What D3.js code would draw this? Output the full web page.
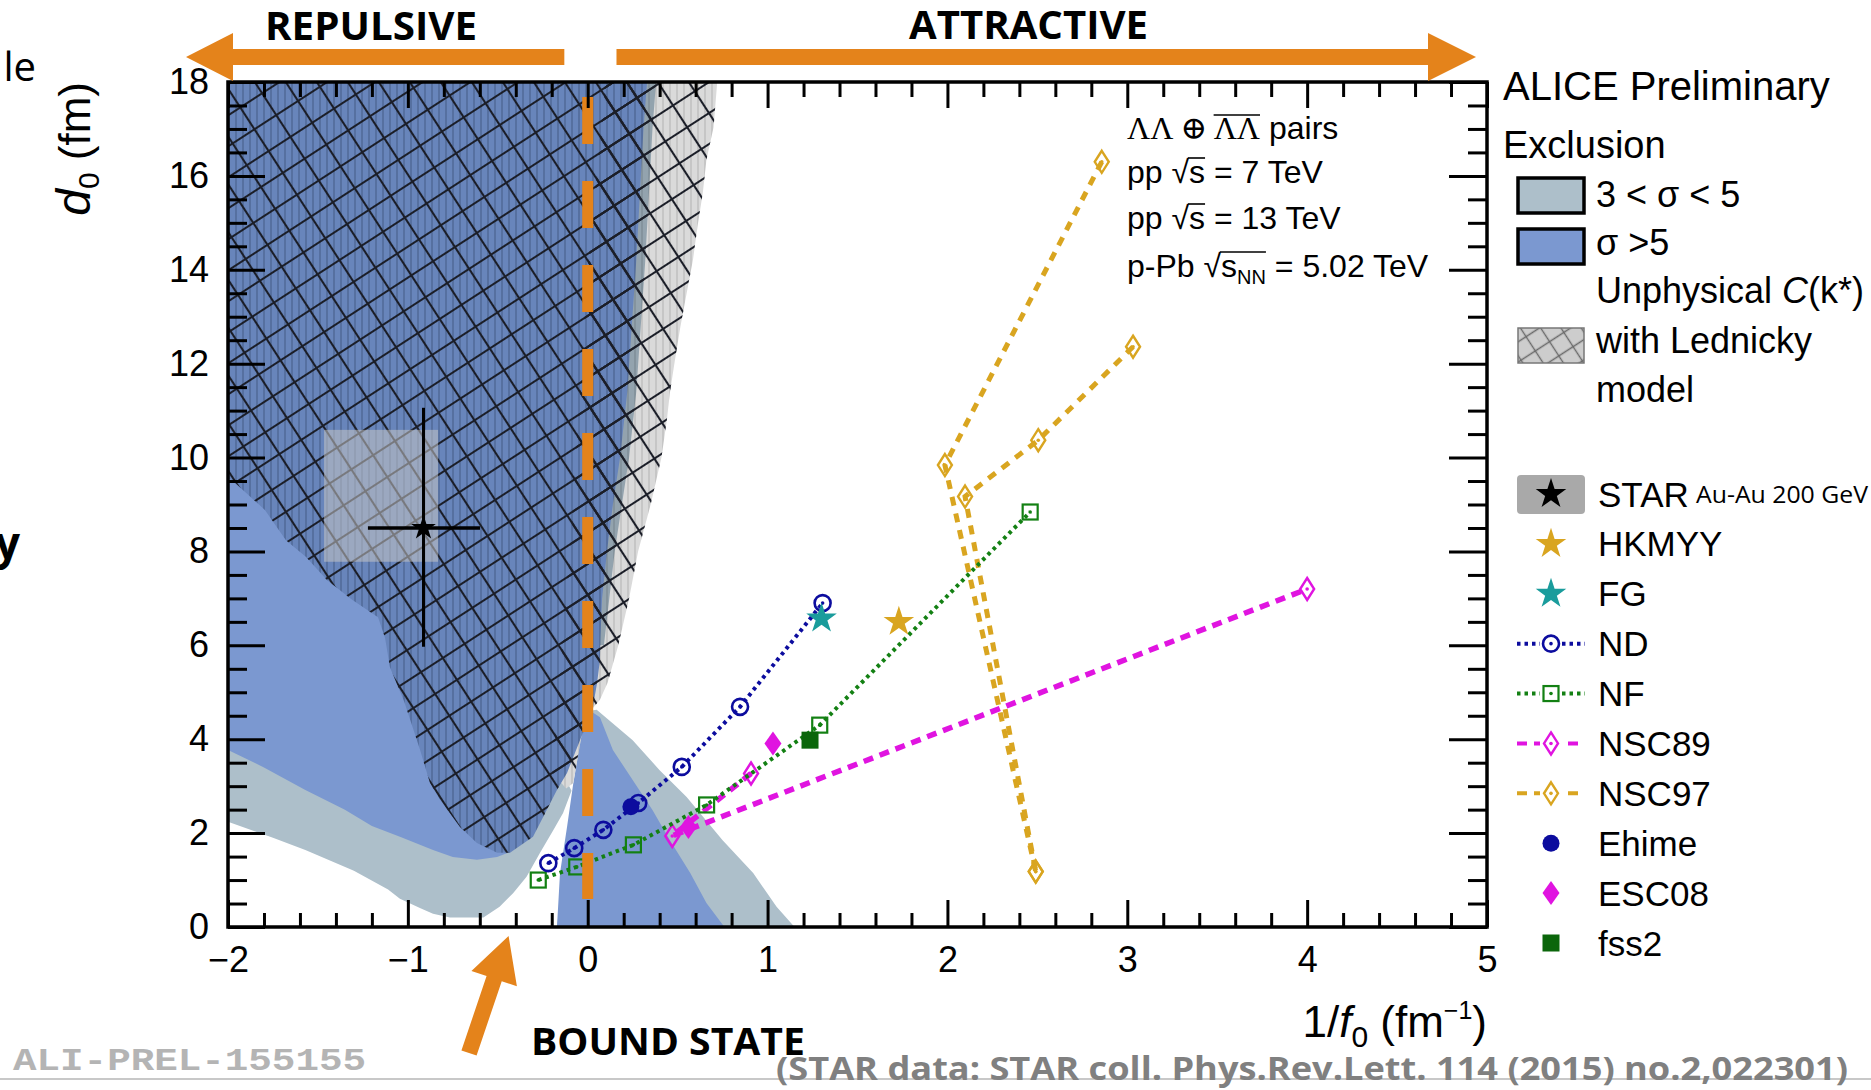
<!DOCTYPE html>
<html>
<head>
<meta charset="utf-8">
<script src="https://cdn.jsdelivr.net/npm/d3@7"></script>
<style>
  html, body { margin: 0; padding: 0; background: #ffffff; }
  svg { display: block; }
</style>
</head>
<body>
<svg id="chart" width="1871" height="1090"></svg>
<script>
// ---------- axis ticks ----------
const xMajorTicks = [-2, -1, 0, 1, 2, 3, 4, 5];
const yMajorTicks = [0, 2, 4, 6, 8, 10, 12, 14, 16, 18];

// ---------- model predictions: 1/f0 (fm^-1) vs d0 (fm) ----------
const ndX = [-0.219, -0.075, 0.087, 0.281, 0.523, 0.847, 1.306];
const ndY = [1.36, 1.68, 2.07, 2.64, 3.41, 4.69, 6.90];
const nfX = [-0.275, -0.061, 0.254, 0.661, 1.29, 2.46];
const nfY = [1.00, 1.28, 1.75, 2.60, 4.30, 8.84];
const nsc89X = [0.908, 0.47, 4.0];
const nsc89Y = [3.27, 1.94, 7.2];
const nsc97aX = [2.858, 1.986, 2.491];
const nsc97aY = [16.30, 9.84, 1.18];
const nsc97bX = [3.032, 2.505, 2.098, 2.491];
const nsc97bY = [12.36, 10.37, 9.17, 1.18];
const ehimeX = [0.24];
const ehimeY = [2.56];
const esc08X = [0.56, 1.03];
const esc08Y = [2.13, 3.91];
const fss2X = [1.236];
const fss2Y = [3.98];
const hkmyyX = [1.73];
const hkmyyY = [6.50];
const fgX = [1.30];
const fgY = [6.57];

// STAR Au-Au measurement with statistical bars and systematic box
const starX = -0.913, starY = 8.5;
const starErrX = [-1.222, -0.599];
const starErrY = [5.97, 11.06];
const starSysX = [-1.466, -0.832];
const starSysY = [7.78, 10.59];

// ---------- exclusion regions (1/f0, d0) ----------
const band3to5Left = [[-2, 12], [-2, 2.24], [-1.75, 1.9], [-1.57, 1.64], [-1.3, 1.2], [-1.11, 0.8], [-1.044, 0.6],
  [-0.93, 0.40], [-0.86, 0.28], [-0.766, 0.2], [-0.58, 0.2], [-0.49, 0.43], [-0.415, 0.72], [-0.34, 1.07],
  [-0.265, 1.58], [-0.19, 2.07], [-0.137, 2.43], [-0.09, 2.9], [-0.3, 4.5], [-0.3, 12]];
const band5Left = [[-2, 12], [-2, 3.77], [-1.8, 3.4], [-1.57, 2.92], [-1.35, 2.5], [-1.2, 2.15], [-1.044, 1.92],
  [-0.86, 1.64], [-0.75, 1.49], [-0.616, 1.43], [-0.504, 1.49], [-0.43, 1.6], [-0.3, 4.5], [-0.3, 12]];
const band3to5Tri = [[-0.171, 0], [-0.04, 4.2], [0.0, 4.6], [0.05, 4.63], [0.25, 3.98], [0.40, 3.34], [0.55, 2.77],
  [0.75, 1.85], [0.92, 1.15], [1.05, 0.43], [1.15, 0]];
const band5Tri = [[-0.171, 0], [-0.154, 1.15], [-0.115, 2.13], [-0.08, 3.07], [-0.032, 4.13], [0.024, 4.58],
  [0.068, 4.47], [0.14, 3.77], [0.25, 3.13], [0.36, 2.49], [0.457, 1.85], [0.57, 1.15], [0.66, 0.51], [0.76, 0]];
const unphysOnly = [[0.1, 18], [0.72, 18], [0.70, 17.04], [0.66, 16.34], [0.64, 15.64], [0.61, 14.91], [0.585, 14.21],
  [0.55, 13.5], [0.515, 12.78], [0.485, 12.08], [0.457, 11.38], [0.44, 10.8], [0.41, 10], [0.35, 9], [0.28, 8],
  [0.23, 7], [0.17, 6], [0.11, 5.2], [0.068, 4.84], [0.02, 4.62], [-0.032, 4.13], [-0.08, 3.07], [-0.12, 2.95],
  [-0.2, 3.3], [-0.1, 8], [0.0, 14]];
const unphys3to5 = [[0.1, 18], [0.38, 18], [0.36, 17], [0.34, 15.6], [0.32, 14.2], [0.295, 12.8], [0.27, 11.4],
  [0.23, 10], [0.19, 9], [0.15, 8], [0.12, 7], [0.09, 6], [0.0, 6], [0.0, 14]];
const unphys5 = [[-2, 18], [0.33, 18], [0.31, 17], [0.29, 15.6], [0.27, 14.2], [0.245, 12.8], [0.22, 11.4],
  [0.18, 10], [0.14, 9], [0.107, 8], [0.08, 7], [0.07, 6.1], [0.068, 5.69], [0.052, 5.2], [0.029, 4.69],
  [-0.004, 4.35], [-0.043, 3.98], [-0.115, 3.28], [-0.171, 2.92], [-0.304, 1.92], [-0.432, 1.58], [-0.504, 1.58],
  [-0.616, 1.79], [-0.71, 2.13], [-0.821, 2.71], [-0.877, 3.07], [-0.932, 3.77], [-1.02, 4.8], [-1.10, 5.54],
  [-1.127, 6.16], [-1.166, 6.6], [-1.31, 6.97], [-1.45, 7.39], [-1.566, 7.88], [-1.678, 8.24], [-1.794, 8.88],
  [-1.978, 9.52], [-2, 9.55]];

// ---------- legend entries ----------
const legendModels = ["STAR", "HKMYY", "FG", "ND", "NF", "NSC89", "NSC97", "Ehime", "ESC08", "fss2"];

// ---------- colours ----------
const C = {
  orange: "#e4831b", blue3to5: "#adbfca", blue5: "#7b98d0",
  nd: "#0c0c9e", nf: "#138013", nsc89: "#e014e0", nsc97: "#d9a520", teal: "#1a9c9c", fss2: "#0b660b"
};
const fontRoot = "'Liberation Sans', Arial, Helvetica, sans-serif";
const fontSlide = "'Open Sans', 'Noto Sans', sans-serif";

// ---------- frame ----------
const plot = { left: 228, right: 1487, top: 82, bottom: 927 };
const x = d3.scaleLinear().domain([-2, 5]).range([plot.left, plot.right]);
const y = d3.scaleLinear().domain([0, 18]).range([plot.bottom, plot.top]);

const svg = d3.select("#chart");
const defs = svg.append("defs");
defs.append("clipPath").attr("id", "plotClip").append("rect")
  .attr("x", plot.left).attr("y", plot.top)
  .attr("width", plot.right - plot.left).attr("height", plot.bottom - plot.top);

// cross-hatch for the unphysical correlation region
const hatch = defs.append("pattern").attr("id", "hatch").attr("patternUnits", "userSpaceOnUse")
  .attr("width", 26).attr("height", 26).attr("patternTransform", "rotate(-33)");
hatch.append("path").attr("d", "M0,13H26M13,0V26").attr("stroke", "#1b1e28").attr("stroke-width", 2.1).attr("fill", "none");

const hatchSmall = defs.append("pattern").attr("id", "hatchSmall").attr("patternUnits", "userSpaceOnUse")
  .attr("width", 17).attr("height", 17).attr("patternTransform", "rotate(-33)");
hatchSmall.append("rect").attr("width", 17).attr("height", 17).attr("fill", "#cdcdcd");
hatchSmall.append("path").attr("d", "M0,8.5H17M8.5,0V17").attr("stroke", "#6a6a6a").attr("stroke-width", 1.4).attr("fill", "none");

// fine vertical stripes of the scanned regions
function stripePattern(id, base, stripe) {
  const p = defs.append("pattern").attr("id", id).attr("patternUnits", "userSpaceOnUse")
    .attr("width", 7).attr("height", 10);
  p.append("rect").attr("width", 7).attr("height", 10).attr("fill", base);
  p.append("rect").attr("x", 4).attr("width", 2).attr("height", 10).attr("fill", stripe);
}
stripePattern("stripeDark", "#6885bb", "#5670a0");
stripePattern("stripeGray", "#dadada", "#c6c6c6");
stripePattern("stripeMid", "#93a3ae", "#84939d");

const area = d3.line().x(d => x(d[0])).y(d => y(d[1]));
const regions = svg.append("g").attr("clip-path", "url(#plotClip)");
function region(pts, fill) { regions.append("path").attr("d", area(pts) + "Z").attr("fill", fill); }

region(band3to5Left, C.blue3to5);
region(band5Left, C.blue5);
region(band3to5Tri, C.blue3to5);
region(band5Tri, C.blue5);
region(unphysOnly, "url(#stripeGray)");
region(unphys3to5, "url(#stripeMid)");
region(unphys5, "url(#stripeDark)");
region(unphysOnly, "url(#hatch)");
region(unphys3to5, "url(#hatch)");
region(unphys5, "url(#hatch)");

// ---------- STAR point ----------
const marks = svg.append("g").attr("clip-path", "url(#plotClip)");
marks.append("rect")
  .attr("x", x(starSysX[0])).attr("y", y(starSysY[1]))
  .attr("width", x(starSysX[1]) - x(starSysX[0])).attr("height", y(starSysY[0]) - y(starSysY[1]))
  .attr("fill", "#c4c4c4").attr("fill-opacity", 0.55);
marks.append("line").attr("x1", x(starErrX[0])).attr("x2", x(starErrX[1]))
  .attr("y1", y(starY)).attr("y2", y(starY)).attr("stroke", "#000").attr("stroke-width", 3.5);
marks.append("line").attr("x1", x(starX)).attr("x2", x(starX))
  .attr("y1", y(starErrY[0])).attr("y2", y(starErrY[1])).attr("stroke", "#000").attr("stroke-width", 3);

// ---------- orange zero line ----------
svg.append("line").attr("x1", x(0)).attr("x2", x(0)).attr("y1", plot.top + 15).attr("y2", plot.bottom - 28)
  .attr("stroke", C.orange).attr("stroke-width", 11).attr("stroke-dasharray", "47,37");

// ---------- marker drawing ----------
function marker(g, type, cx, cy, color) {
  const s = g.append("g").attr("transform", `translate(${cx},${cy})`);
  const dot = () => s.append("circle").attr("r", 1.8).attr("fill", color);
  switch (type) {
    case "openCircle":
      s.append("circle").attr("r", 8).attr("fill", "none").attr("stroke", color).attr("stroke-width", 2.6); dot(); break;
    case "openSquare":
      s.append("rect").attr("x", -7.5).attr("y", -7.5).attr("width", 15).attr("height", 15)
        .attr("fill", "none").attr("stroke", color).attr("stroke-width", 2.2); dot(); break;
    case "openDiamond":
      s.append("path").attr("d", "M0,-11L7,0L0,11L-7,0Z").attr("fill", "none").attr("stroke", color).attr("stroke-width", 2.4); dot(); break;
    case "filledCircle":
      s.append("circle").attr("r", 8.5).attr("fill", color); break;
    case "filledDiamond":
      s.append("path").attr("d", "M0,-12L8.5,0L0,12L-8.5,0Z").attr("fill", color); break;
    case "filledSquare":
      s.append("rect").attr("x", -8.5).attr("y", -8.5).attr("width", 17).attr("height", 17).attr("fill", color); break;
    case "star":
      s.append("path").attr("d", d3.symbol(d3.symbolStar, 290)()).attr("fill", color); break;
    case "starSmall":
      s.append("path").attr("d", d3.symbol(d3.symbolStar, 190)()).attr("fill", color); break;
  }
}

function series(xs, ys, color, dash, width, type) {
  const pts = xs.map((v, i) => [v, ys[i]]);
  marks.append("path").attr("d", area(pts)).attr("fill", "none").attr("stroke", color)
    .attr("stroke-width", width).attr("stroke-dasharray", dash);
  pts.forEach(p => marker(marks, type, x(p[0]), y(p[1]), color));
}
series(nsc97aX, nsc97aY, C.nsc97, "9,8", 5, "openDiamond");
series(nsc97bX, nsc97bY, C.nsc97, "9,8", 5, "openDiamond");
series(nsc89X, nsc89Y, C.nsc89, "10,7", 5.5, "openDiamond");
series(nfX, nfY, C.nf, "3.5,4", 4, "openSquare");
series(ndX, ndY, C.nd, "3.5,4", 4, "openCircle");
ehimeX.forEach((v, i) => marker(marks, "filledCircle", x(v), y(ehimeY[i]), C.nd));
esc08X.forEach((v, i) => marker(marks, "filledDiamond", x(v), y(esc08Y[i]), C.nsc89));
fss2X.forEach((v, i) => marker(marks, "filledSquare", x(v), y(fss2Y[i]), C.fss2));
hkmyyX.forEach((v, i) => marker(marks, "star", x(v), y(hkmyyY[i]), C.nsc97));
fgX.forEach((v, i) => marker(marks, "star", x(v), y(fgY[i]), C.teal));
marker(marks, "starSmall", x(starX), y(starY), "#000");

// ---------- axes (ticks on all four sides, pointing inward) ----------
const xMinor = x.ticks(35).filter(v => !xMajorTicks.some(m => Math.abs(m - v) < 1e-6));
const yMinor = y.ticks(36).filter(v => !yMajorTicks.some(m => Math.abs(m - v) < 1e-6));
const fmt = d => (d < 0 ? "\u2212" + Math.abs(d) : String(d));
function styleAxis(g) {
  g.select(".domain").remove();
  g.selectAll(".tick line").attr("stroke", "#000").attr("stroke-width", 3);
  g.selectAll(".tick text").attr("font-family", fontRoot).attr("font-size", 36).attr("fill", "#000");
}
const axes = svg.append("g");
axes.append("g").attr("transform", `translate(0,${plot.bottom})`)
  .call(d3.axisBottom(x).tickValues(xMajorTicks).tickSize(-27).tickPadding(19).tickFormat(fmt)).call(styleAxis);
axes.append("g").attr("transform", `translate(0,${plot.bottom})`)
  .call(d3.axisBottom(x).tickValues(xMinor).tickSize(-14).tickFormat("")).call(styleAxis);
axes.append("g").attr("transform", `translate(0,${plot.top})`)
  .call(d3.axisTop(x).tickValues(xMajorTicks).tickSize(-26).tickFormat("")).call(styleAxis);
axes.append("g").attr("transform", `translate(0,${plot.top})`)
  .call(d3.axisTop(x).tickValues(xMinor).tickSize(-15).tickFormat("")).call(styleAxis);
axes.append("g").attr("transform", `translate(${plot.left},0)`)
  .call(d3.axisLeft(y).tickValues(yMajorTicks).tickSize(-37).tickPadding(19).tickFormat(fmt)).call(styleAxis);
axes.append("g").attr("transform", `translate(${plot.left},0)`)
  .call(d3.axisLeft(y).tickValues(yMinor).tickSize(-19).tickFormat("")).call(styleAxis);
axes.append("g").attr("transform", `translate(${plot.right},0)`)
  .call(d3.axisRight(y).tickValues(yMajorTicks).tickSize(-38).tickFormat("")).call(styleAxis);
axes.append("g").attr("transform", `translate(${plot.right},0)`)
  .call(d3.axisRight(y).tickValues(yMinor).tickSize(-19).tickFormat("")).call(styleAxis);
axes.append("rect").attr("x", plot.left).attr("y", plot.top)
  .attr("width", plot.right - plot.left).attr("height", plot.bottom - plot.top)
  .attr("fill", "none").attr("stroke", "#000").attr("stroke-width", 3.5);

// ---------- rich text helper ----------
function rich(parent, px, py, parts, opts = {}) {
  const t = parent.append("text").attr("x", px).attr("y", py)
    .attr("font-family", opts.family || fontRoot).attr("font-size", opts.size || 36)
    .attr("fill", opts.fill || "#000");
  if (opts.anchor) t.attr("text-anchor", opts.anchor);
  if (opts.transform) t.attr("transform", opts.transform);
  const spans = parts.map(p => {
    const s = t.append("tspan").text(p.t);
    if (p.italic) s.attr("font-style", "italic");
    if (p.size) s.attr("font-size", p.size);
    if (p.dy) s.attr("dy", p.dy);
    if (p.family) s.attr("font-family", p.family);
    return s;
  });
  return { t, spans };
}
// overline above a run of tspans (for radicals and antiparticles)
function overline(parent, spans, yTop, x0pad = 0) {
  const b0 = spans[0].node().getBBox();
  const b1 = spans[spans.length - 1].node().getBBox();
  parent.append("line").attr("x1", b0.x + x0pad).attr("x2", b1.x + b1.width)
    .attr("y1", yTop).attr("y2", yTop).attr("stroke", "#000").attr("stroke-width", 1.6);
}

// ---------- axis titles ----------
rich(svg, 90, plot.top, [
  { t: "d", italic: true, size: 48 }, { t: "0", size: 30, dy: 9 }, { t: " (fm)", dy: -9 }
], { size: 44, anchor: "end", transform: `rotate(-90,90,${plot.top})` });
rich(svg, plot.right, 1037, [
  { t: "1/" }, { t: "f", italic: true }, { t: "0", size: 30, dy: 10 }, { t: " (fm", dy: -10 },
  { t: "\u22121", size: 25, dy: -18 }, { t: ")", dy: 18 }
], { size: 44, anchor: "end" });

// ---------- collision systems ----------
const info = svg.append("g");
const l1 = rich(info, 1127, 139, [
  { t: "\u039B\u039B \u2295 ", family: "'Liberation Serif', 'DejaVu Serif', serif" },
  { t: "\u039B\u039B", family: "'Liberation Serif', 'DejaVu Serif', serif" },
  { t: " pairs" }
], { size: 32 });
overline(info, [l1.spans[1]], 115);
const l2 = rich(info, 1127, 183, [{ t: "pp " }, { t: "\u221A" }, { t: "s" }, { t: " = 7 TeV" }], { size: 32 });
overline(info, [l2.spans[2]], 158, -1);
const l3 = rich(info, 1127, 229, [{ t: "pp " }, { t: "\u221A" }, { t: "s" }, { t: " = 13 TeV" }], { size: 32 });
overline(info, [l3.spans[2]], 204, -1);
const l4 = rich(info, 1127, 277, [{ t: "p-Pb " }, { t: "\u221A" }, { t: "s" }, { t: "NN", size: 20, dy: 7 }, { t: " = 5.02 TeV", dy: -7 }], { size: 32 });
overline(info, [l4.spans[2], l4.spans[3]], 252, -1);

// ---------- legend: exclusion ----------
const leg = svg.append("g");
rich(leg, 1503, 100, [{ t: "ALICE Preliminary" }], { size: 40 });
rich(leg, 1503, 158, [{ t: "Exclusion" }], { size: 38 });
leg.append("rect").attr("x", 1518).attr("y", 178).attr("width", 66).attr("height", 35)
  .attr("fill", C.blue3to5).attr("stroke", "#000").attr("stroke-width", 3.5);
rich(leg, 1596, 207, [{ t: "3 < \u03C3 < 5" }], { size: 36 });
leg.append("rect").attr("x", 1518).attr("y", 229).attr("width", 66).attr("height", 35)
  .attr("fill", C.blue5).attr("stroke", "#000").attr("stroke-width", 3.5);
rich(leg, 1596, 255, [{ t: "\u03C3 >5" }], { size: 36 });
rich(leg, 1596, 303, [{ t: "Unphysical " }, { t: "C", italic: true }, { t: "(k*)" }], { size: 36 });
leg.append("rect").attr("x", 1518).attr("y", 328).attr("width", 66).attr("height", 35)
  .attr("fill", "url(#hatchSmall)").attr("stroke", "#777").attr("stroke-width", 1.5);
rich(leg, 1596, 353, [{ t: "with Lednicky" }], { size: 36 });
rich(leg, 1596, 402, [{ t: "model" }], { size: 36 });

// ---------- legend: models ----------
const rowY = d3.scalePoint().domain(legendModels).range([494, 943]);
const mx = 1551, lx0 = 1517, lx1 = 1585, tx = 1598;
const g2 = svg.append("g");
g2.append("rect").attr("x", lx0).attr("y", rowY("STAR") - 19).attr("width", lx1 - lx0).attr("height", 39)
  .attr("rx", 4).attr("fill", "#a9a9a9");
marker(g2, "star", mx, rowY("STAR"), "#000");
marker(g2, "star", mx, rowY("HKMYY"), C.nsc97);
marker(g2, "star", mx, rowY("FG"), C.teal);
const legLines = [["ND", C.nd, "3.5,4", 4, "openCircle"], ["NF", C.nf, "3.5,4", 4, "openSquare"],
  ["NSC89", C.nsc89, "10,7", 4, "openDiamond"], ["NSC97", C.nsc97, "10,7", 4, "openDiamond"]];
legLines.forEach(([name, col, dash, w, type]) => {
  g2.append("line").attr("x1", lx0).attr("x2", lx1).attr("y1", rowY(name)).attr("y2", rowY(name))
    .attr("stroke", col).attr("stroke-width", w).attr("stroke-dasharray", dash);
  g2.append("rect").attr("x", mx - 11).attr("y", rowY(name) - 12).attr("width", 22).attr("height", 24).attr("fill", "#fff");
  marker(g2, type, mx, rowY(name), col);
});
marker(g2, "filledCircle", mx, rowY("Ehime"), C.nd);
marker(g2, "filledDiamond", mx, rowY("ESC08"), C.nsc89);
marker(g2, "filledSquare", mx, rowY("fss2"), C.fss2);
legendModels.forEach(name => rich(g2, tx, rowY(name) + 12.5, [{ t: name }], { size: 35 }));
g2.append("text").attr("x", 1696).attr("y", rowY("STAR") + 9).attr("font-family", fontSlide)
  .attr("font-size", 24).attr("textLength", 172).attr("lengthAdjust", "spacingAndGlyphs").text("Au-Au 200 GeV");

// ---------- slide annotations ----------
const ann = svg.append("g");
function arrow(tip, tail, shaftHalf, headLen, headHalf) {
  const dx = tip[0] - tail[0], dy = tip[1] - tail[1], L = Math.hypot(dx, dy);
  const ux = dx / L, uy = dy / L, px = -uy, py = ux;
  const bx = tip[0] - ux * headLen, by = tip[1] - uy * headLen;
  const pts = [
    [tail[0] + px * shaftHalf, tail[1] + py * shaftHalf], [bx + px * shaftHalf, by + py * shaftHalf],
    [bx + px * headHalf, by + py * headHalf], tip, [bx - px * headHalf, by - py * headHalf],
    [bx - px * shaftHalf, by - py * shaftHalf], [tail[0] - px * shaftHalf, tail[1] - py * shaftHalf]];
  ann.append("polygon").attr("points", pts.map(p => p.join(",")).join(" ")).attr("fill", C.orange);
}
const arrowY = 57;
arrow([plot.left - 42, arrowY], [x(-0.13), arrowY], 8, 47, 24);
arrow([plot.right - 11, arrowY], [x(0.16), arrowY], 8, 48, 24);
arrow([x(-0.44), plot.bottom + 9], [x(-0.66), plot.bottom + 126], 8, 45, 24);

function slideText(txt, px, py, size, len, opts = {}) {
  const t = ann.append("text").attr("x", px).attr("y", py).attr("font-family", opts.family || fontSlide)
    .attr("font-size", size).attr("font-weight", opts.weight || 700).attr("fill", opts.fill || "#000").text(txt);
  if (len) t.attr("textLength", len).attr("lengthAdjust", "spacingAndGlyphs");
  if (opts.anchor) t.attr("text-anchor", opts.anchor);
  return t;
}
slideText("REPULSIVE", 265, 40, 39, 212);
slideText("ATTRACTIVE", 909, 39, 39, 239);
slideText("BOUND STATE", 531, 1055, 38, 274);
slideText("le", 36, 81, 40, null, { weight: 400, anchor: "end" });
slideText("y", 20, 559, 44, null, { anchor: "end" });

ann.append("line").attr("x1", 0).attr("x2", 1871).attr("y1", 1079).attr("y2", 1079)
  .attr("stroke", "#c8c8c8").attr("stroke-width", 2);
slideText("ALI-PREL-155155", 13, 1070, 32, 353, { family: "'Liberation Mono', 'DejaVu Sans Mono', monospace", fill: "#b4b4b4" });
slideText("(STAR data: STAR coll. Phys.Rev.Lett. 114 (2015) no.2,022301)", 776, 1080, 33, 1072, { fill: "#808080" });
</script>
</body>
</html>
